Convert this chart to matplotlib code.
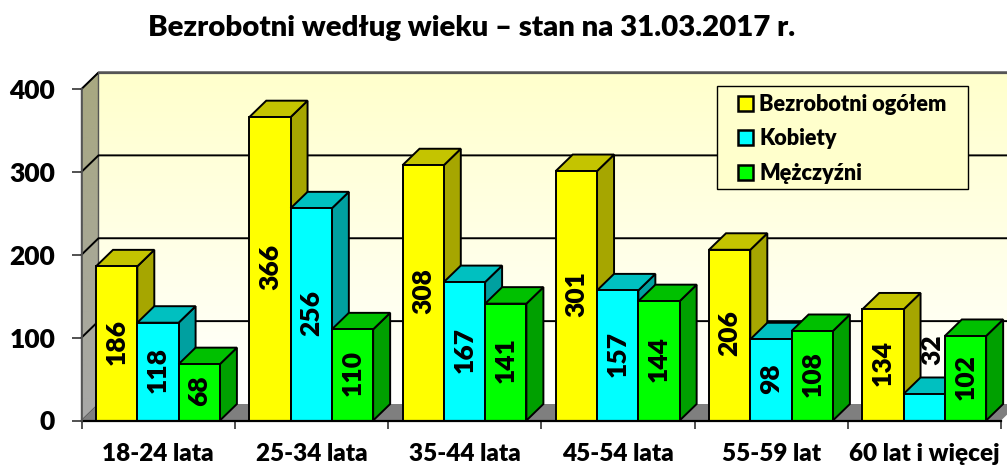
import numpy as np
import matplotlib
matplotlib.use("Agg")
import matplotlib.pyplot as plt
from matplotlib.patches import Polygon, Rectangle

categories = ["18-24 lata", "25-34 lata", "35-44 lata", "45-54 lata", "55-59 lat", "60 lat i więcej"]
ogolem = [186, 366, 308, 301, 206, 134]
kobiety = [118, 256, 167, 157, 98, 32]
mezczyzni = [68, 110, 141, 144, 108, 102]
series_names = ["Bezrobotni ogółem", "Kobiety", "Mężczyźni"]
yticks = [0, 100, 200, 300, 400]
title = "Bezrobotni według wieku – stan na 31.03.2017 r."

W, H = 1007, 466
WEIGHT = 'heavy'
plt.rcParams['font.family'] = ['Lato', 'DejaVu Sans']
plt.rcParams['font.weight'] = WEIGHT
fig = plt.figure(figsize=(W/100, H/100), dpi=100, facecolor='white')
L, R, B, T = 81.5, 1001.0, 420.5, 89.0
ax = fig.add_axes([L/W, 1-B/H, (R-L)/W, (B-T)/H])
ax.set_xlim(0, 6); ax.set_ylim(0, 400)
ax.patch.set_visible(False)
for s in ax.spines.values():
    s.set_visible(False)

ux = (R-L)/6      # px per category
uy = (B-T)/400    # px per value
DX = 17/ux
DY = 16.5/uy
TOP = 400 + DY

# back wall with vertical gradient
grad = np.linspace(0, 1, 256)[:, None]
wall = np.zeros((256, 1, 3))
c_top, c_bot = np.array([255, 255, 204])/255, np.array([255, 255, 255])/255
for i in range(3):
    wall[:, 0, i] = c_bot[i] + (c_top[i]-c_bot[i])*grad[:, 0]
ax.imshow(wall, extent=(DX, 6+DX, DY, TOP), origin='lower', aspect='auto', zorder=0, clip_on=False)

# left side wall with gradient
side = np.zeros((256, 1, 3))
s_top, s_bot = np.array([168, 168, 128])/255, np.array([168, 168, 168])/255
for i in range(3):
    side[:, 0, i] = s_bot[i] + (s_top[i]-s_bot[i])*grad[:, 0]
im = ax.imshow(side, extent=(0, DX, 0, TOP), origin='lower', aspect='auto', zorder=0.5)
sp = Polygon([(0, 0), (DX, DY), (DX, TOP), (0, 400)], closed=True, transform=ax.transData,
             facecolor='none', edgecolor='#555555', lw=1, zorder=0.6, clip_on=False)
ax.add_patch(sp)
im.set_clip_path(sp)
im.set_clip_box(fig.bbox)
ax.set_xlim(0, 6); ax.set_ylim(0, 400)

# floor
ax.add_patch(Polygon([(0, 0), (DX, DY), (6+DX, DY), (6, 0)], closed=True, facecolor='#7f7f7f',
                     edgecolor='none', zorder=0.7, clip_on=False))

# gridlines
for v in yticks[1:]:
    ax.plot([0, DX, 6+DX], [v, v+DY, v+DY], color='black', lw=1.4, zorder=0.8, clip_on=False)
ax.plot([DX, 6+DX], [TOP, TOP], color='#555555', lw=1.6, zorder=0.8, clip_on=False)

series = [ogolem, kobiety, mezczyzni]
front = ['#FFFF00', '#00FFFF', '#00FF00']
tops = ['#C4C400', '#00C0C0', '#00C000']
sides = ['#A6A600', '#00A0A0', '#00A000']
offset = 14.5/ux
bw = 41.3/ux
z = 2.0
handles = []
for c in range(6):
    for s in range(3):
        v = series[s][c]
        x0 = c + offset + s*bw
        x1 = x0 + bw
        ax.add_patch(Polygon([(x1, 0), (x1+DX, DY), (x1+DX, v+DY), (x1, v)], closed=True,
                             facecolor=sides[s], edgecolor='black', lw=1.4, zorder=z, clip_on=False))
        ax.add_patch(Polygon([(x0, v), (x0+DX, v+DY), (x1+DX, v+DY), (x1, v)], closed=True,
                             facecolor=tops[s], edgecolor='black', lw=1.4, zorder=z, clip_on=False))
        bar = ax.bar(x0, v, bw, align='edge', color=front[s], edgecolor='black', lw=1.4,
                     zorder=z+0.1, clip_on=False)
        if c == 0:
            handles.append(bar[0])
        z += 0.2

# data labels
for c in range(6):
    for s in range(3):
        v = series[s][c]
        xc = c + offset + (s+0.5)*bw
        if v < 50:
            xc += DX/2
            yc = v + 53
        else:
            yc = v/2 + 2
        ax.text(xc, yc, str(v), rotation=90, ha='center', va='center', fontsize=19,
                fontweight=WEIGHT, color='black', zorder=50, clip_on=False)

# axes
ax.set_yticks(yticks)
ax.set_yticklabels([str(v) for v in yticks], fontsize=19, fontweight=WEIGHT)
ax.set_xticks(range(7))
ax.set_xticklabels([])
ax.set_xticks(np.arange(6)+0.5, categories, minor=True, fontsize=17.5, fontweight=WEIGHT)
ax.tick_params(axis='y', length=7, width=1.2, color='#333333', pad=12)
ax.tick_params(axis='x', which='major', length=6, width=1.2, color='#333333')
ax.tick_params(axis='x', which='minor', length=0, pad=16.5)
ax.plot([0, 6], [0, 0], color='black', lw=1.6, zorder=40, clip_on=False)
ax.plot([0, 0], [0, 400], color='#555555', lw=1.2, zorder=40, clip_on=False)

# legend frame and legend
frame = Rectangle((717/W, 1-189/H), (968-717)/W, (189-86)/H, transform=fig.transFigure,
                  facecolor='#FFFFCC', edgecolor='black', lw=1.0, zorder=59, clip_on=False)
ax.add_patch(frame)
leg = ax.legend(handles, series_names, loc='upper left',
                bbox_to_anchor=(738/W, 1-94/H), bbox_transform=fig.transFigure,
                frameon=False,
                prop={'family': ['Lato', 'DejaVu Sans'], 'weight': WEIGHT, 'size': 15.6},
                handlelength=0.7, handleheight=0.7, handletextpad=0.27, labelspacing=0.62,
                borderpad=0, borderaxespad=0, ncols=1)
leg.set_zorder(60)
for h in leg.get_patches():
    h.set_linewidth(1.8)

fig.text(472/W, 1-28/H, title, ha='center', va='center', fontsize=21.2, fontweight=WEIGHT, color='black')
fig.savefig("out.png", dpi=100)
